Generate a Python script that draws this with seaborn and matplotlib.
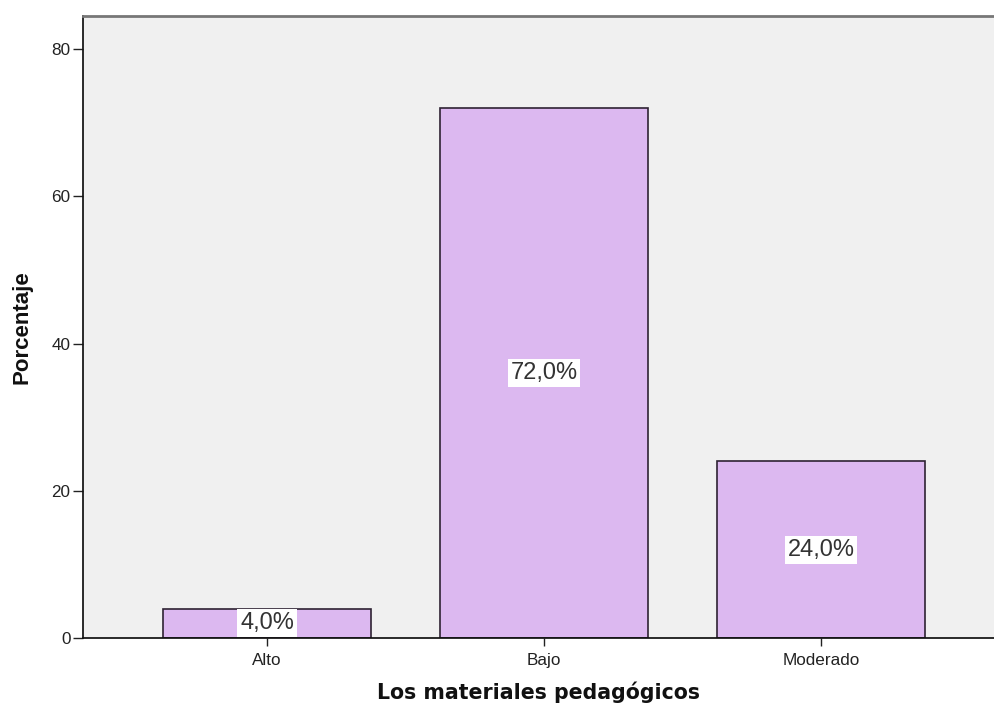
import pandas as pd
import seaborn as sns
import matplotlib.pyplot as plt

categories = ["Alto", "Bajo", "Moderado"]
percentages = [4.0, 72.0, 24.0]
y_ticks = [0, 20, 40, 60, 80]

df = pd.DataFrame({"nivel": categories, "pct": percentages})

sns.set_theme(style="white")
plt.rcParams["font.family"] = ["Liberation Sans", "DejaVu Sans"]

fig = plt.figure(figsize=(9.95, 7.09), dpi=100)
ax = fig.add_axes([0.0834, 0.1001, 0.9166, 0.8773])
ax.set_facecolor("#F0F0F0")

sns.barplot(data=df, x="nivel", y="pct", color="#DCB8F0", saturation=1,
            width=0.75, edgecolor="#2E2233", linewidth=1.2, ax=ax)

# value labels in the middle of each bar, SPSS style
for i, v in enumerate(percentages):
    ax.text(i, v / 2, f"{v:.1f}%".replace(".", ","), ha="center", va="center",
            fontsize=17, color="#333333",
            bbox=dict(boxstyle="square,pad=0.12", facecolor="white", edgecolor="none"))

ax.set_xlim(-0.664, 2.628)
ax.set_ylim(0, 84.5)
ax.set_yticks(y_ticks)
ax.tick_params(axis="both", which="both", direction="out", width=1,
               color="#222222", labelsize=12.3, labelcolor="#222222",
               left=True, bottom=True)
ax.tick_params(axis="y", length=7, pad=2)
ax.tick_params(axis="x", length=6, pad=5)

ax.spines["right"].set_visible(False)
ax.spines["left"].set_color("#111111")
ax.spines["bottom"].set_color("#111111")
ax.spines["top"].set_color("#777777")
ax.spines["top"].set_linewidth(2)

ax.set_ylabel("Porcentaje", fontsize=16, fontweight="bold", color="#111111")
ax.set_xlabel("Los materiales pedagógicos", fontsize=14.8, fontweight="bold",
              color="#111111", family="DejaVu Sans")
ax.xaxis.set_label_coords(0.5, -0.07)
ax.yaxis.set_label_coords(-0.055, 0.5)

fig.savefig("out.png", dpi=100)
